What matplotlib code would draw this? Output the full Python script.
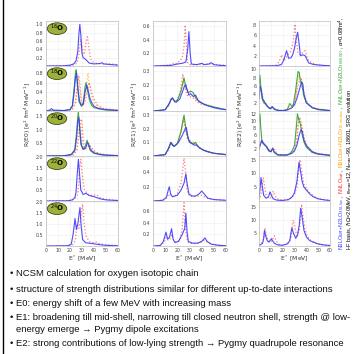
import matplotlib.pyplot as plt
from matplotlib.patches import Ellipse
from matplotlib.lines import Line2D

# ---- data: (E* [MeV], strength) ----
isotopes = ["16", "18", "20", "22", "24"]

# E0 column
e0_16_blue = [(0, 0), (15, 0.005), (20, 0.02), (23, 0.05), (25, 0.12), (26.5, 0.35), (27.5, 0.8), (28.2, 1.0), (29, 0.75),
              (30, 0.3), (31, 0.2), (32.5, 0.17), (34, 0.13), (36, 0.07), (40, 0.05), (45, 0.06), (46.5, 0.08), (48, 0.05),
              (52, 0.04), (56, 0.03), (60, 0.02)]
e0_16_red = [(0, 0), (20, 0.01), (24, 0.03), (26, 0.08), (27.5, 0.3), (29, 0.65), (30, 0.5), (31, 0.28), (32, 0.3),
             (33.5, 0.6), (34.5, 0.7), (35.5, 0.5), (37, 0.18), (39, 0.1), (42, 0.06), (48, 0.05), (54, 0.05), (60, 0.03)]
e0_18_blue = [(0, 0), (3, 0.02), (4.7, 0.05), (6, 0.02), (15, 0.01), (20, 0.03), (22, 0.1), (23.5, 0.4), (24.5, 0.7), (25.5, 0.8),
              (26.5, 0.5), (28, 0.2), (29.5, 0.12), (31, 0.15), (32.5, 0.4), (34, 0.55), (35, 0.45), (36.5, 0.28), (38, 0.18),
              (40, 0.1), (44, 0.05), (50, 0.03), (60, 0.01)]
e0_18_green = [(0, 0), (15, 0.01), (20, 0.03), (22, 0.12), (23.5, 0.5), (24.5, 0.8), (25.2, 0.87), (26, 0.6), (27.5, 0.2),
               (29.5, 0.1), (31, 0.15), (32.5, 0.5), (33.3, 0.6), (34.5, 0.45), (36, 0.25), (38, 0.12), (40, 0.07),
               (45, 0.04), (50, 0.02), (60, 0.01)]
e0_18_red = [(0, 0), (18, 0.01), (22, 0.04), (24.5, 0.15), (26, 0.45), (27.2, 0.75), (28.2, 0.6), (29.5, 0.2), (31, 0.12),
             (33, 0.25), (35, 0.5), (36, 0.6), (37, 0.5), (38.5, 0.35), (40, 0.25), (43, 0.12), (48, 0.05), (60, 0.02)]
e0_18_orange = [(0, 0), (18, 0.01), (22, 0.05), (24.5, 0.2), (26, 0.55), (27, 0.7), (28, 0.5), (29.5, 0.18), (31, 0.12),
                (33, 0.35), (34.3, 0.7), (35, 0.8), (36, 0.6), (37.5, 0.35), (40, 0.18), (44, 0.08), (50, 0.04), (60, 0.02)]
e0_20_blue = [(0, 0), (15, 0.01), (21, 0.05), (24, 0.2), (25.5, 0.7), (26.5, 1.3), (27.4, 1.45), (28.2, 1.0), (29.5, 0.4),
              (31, 0.25), (33, 0.3), (34.5, 0.5), (35.5, 0.45), (37, 0.25), (40, 0.12), (45, 0.06), (50, 0.03), (60, 0.01)]
e0_20_green = [(0, 0), (15, 0.01), (21, 0.06), (24, 0.25), (25.5, 0.9), (26.5, 1.5), (27, 1.65), (27.8, 1.2), (29, 0.45),
               (31, 0.25), (33, 0.4), (34.2, 0.6), (35.5, 0.4), (37, 0.2), (40, 0.1), (45, 0.05), (50, 0.03), (60, 0.01)]
e0_20_red = [(0, 0), (18, 0.01), (23, 0.05), (26, 0.25), (27.5, 0.8), (28.5, 1.3), (29.6, 1.4), (30.5, 0.9), (31.8, 0.35),
             (33, 0.25), (35, 0.35), (36, 0.42), (37.5, 0.35), (40, 0.2), (44, 0.1), (50, 0.05), (60, 0.02)]
e0_20_orange = [(0, 0), (18, 0.01), (23, 0.05), (25.5, 0.3), (27, 1.0), (28, 1.35), (29, 1.1), (30.5, 0.45), (32, 0.25),
                (34, 0.4), (35, 0.55), (36.5, 0.4), (38, 0.25), (41, 0.12), (46, 0.06), (60, 0.02)]
e0_22_blue = [(0, 0), (18, 0.01), (22, 0.05), (24, 0.15), (25, 0.4), (26, 1.2), (27, 1.9), (28, 1.2), (29, 0.5), (31, 0.3),
              (33.3, 0.35), (36, 0.25), (40, 0.2), (45, 0.1), (50, 0.05), (60, 0.02)]
e0_22_red = [(0, 0), (20, 0.01), (24, 0.1), (26, 0.25), (27, 0.6), (28, 1.5), (29, 1.9), (30, 1.3), (32, 0.5), (35, 0.3),
             (38, 0.25), (42, 0.3), (45, 0.15), (50, 0.08), (60, 0.03)]
e0_24_blue = [(0, 0), (18, 0.01), (21, 0.08), (22.5, 0.5), (24.2, 1.25), (25.3, 0.75), (26.5, 1.0), (28.3, 1.75), (29.3, 0.9),
              (30.5, 0.3), (33, 0.15), (37, 0.12), (40, 0.1), (45, 0.06), (50, 0.03), (60, 0.01)]
e0_24_red = [(0, 0), (20, 0.01), (23, 0.08), (24.5, 0.3), (26, 1.0), (27.3, 0.8), (28.5, 1.1), (30.5, 1.9), (31.5, 1.2),
             (33, 0.5), (36, 0.2), (40, 0.15), (42, 0.18), (45, 0.1), (50, 0.05), (60, 0.02)]

# E1 column
e1_16_blue = [(0, 0), (15, 0.01), (20, 0.03), (24, 0.04), (27, 0.06), (28.5, 0.25), (29.5, 0.52), (30.5, 0.2), (31.5, 0.03),
              (36, 0.02), (40, 0.04), (42, 0.02), (46, 0.03), (48, 0.05), (50, 0.02), (55, 0.01), (60, 0.005)]
e1_16_red = [(0, 0), (10, 0.01), (15, 0.02), (17, 0.04), (18, 0.03), (20, 0.04), (22, 0.08), (24, 0.12), (25.5, 0.3),
             (26.5, 0.62), (27.5, 0.3), (28.5, 0.05), (30, 0.02), (35, 0.02), (40, 0.03), (48, 0.03), (60, 0.01)]
e1_18_blue = [(0, 0), (5, 0.002), (10, 0.01), (13, 0.05), (15, 0.09), (16, 0.1), (18, 0.07), (19, 0.065), (22, 0.09),
              (24, 0.14), (25.5, 0.18), (27, 0.2), (28, 0.16), (29.5, 0.12), (31, 0.13), (33, 0.11), (35, 0.12), (37, 0.08),
              (40, 0.06), (45, 0.04), (50, 0.025), (55, 0.015), (60, 0.01)]
e1_18_green = [(0, 0), (10, 0.01), (13, 0.05), (15, 0.09), (16, 0.095), (18, 0.07), (20, 0.08), (23, 0.15), (25.5, 0.25),
               (27, 0.18), (29, 0.14), (31, 0.15), (33, 0.14), (35, 0.1), (38, 0.07), (42, 0.05), (50, 0.03), (60, 0.01)]
e1_18_red = [(0, 0), (10, 0.01), (13, 0.04), (15, 0.1), (17, 0.08), (19, 0.07), (22, 0.12), (24.5, 0.28), (26, 0.18),
             (28, 0.12), (30, 0.11), (33, 0.1), (36, 0.07), (40, 0.05), (50, 0.03), (60, 0.01)]
e1_18_orange = [(0, 0), (10, 0.01), (13, 0.05), (15, 0.09), (17, 0.08), (20, 0.08), (23, 0.16), (25, 0.22), (27, 0.17),
                (30, 0.14), (33, 0.13), (36, 0.09), (40, 0.06), (50, 0.03), (60, 0.01)]
e1_20_blue = [(0, 0), (10, 0.01), (12.5, 0.05), (14.5, 0.1), (16, 0.08), (17.5, 0.07), (21, 0.1), (24, 0.15), (26, 0.19),
              (27.4, 0.21), (28.5, 0.15), (30, 0.1), (32, 0.09), (34, 0.08), (36, 0.08), (38, 0.06), (42, 0.04), (50, 0.02),
              (60, 0.01)]
e1_20_green = [(0, 0), (10, 0.01), (13, 0.06), (15, 0.1), (17, 0.07), (20, 0.09), (23, 0.18), (25.5, 0.3), (27, 0.2),
               (29, 0.12), (31, 0.1), (33, 0.09), (35, 0.1), (37, 0.07), (40, 0.05), (45, 0.03), (50, 0.02), (60, 0.01)]
e1_20_red = [(0, 0), (10, 0.01), (13, 0.05), (15, 0.09), (17, 0.07), (20, 0.09), (23, 0.18), (25, 0.28), (26.5, 0.2),
             (28.5, 0.12), (31, 0.1), (34, 0.09), (37, 0.07), (40, 0.05), (50, 0.02), (60, 0.01)]
e1_20_orange = [(0, 0), (10, 0.01), (13, 0.05), (15, 0.09), (17, 0.08), (20, 0.09), (23, 0.17), (25.3, 0.26), (27, 0.2),
                (29, 0.13), (31, 0.11), (34, 0.1), (37, 0.07), (40, 0.05), (50, 0.02), (60, 0.01)]
e1_22_blue = [(0, 0), (8, 0.01), (11, 0.05), (12.5, 0.15), (13.4, 0.2), (14.5, 0.1), (16, 0.06), (20, 0.08), (23, 0.15),
              (25.5, 0.25), (27, 0.38), (28, 0.25), (29.5, 0.1), (32, 0.07), (35, 0.07), (38, 0.1), (40, 0.14), (42, 0.1),
              (45, 0.04), (50, 0.02), (60, 0.01)]
e1_22_red = [(0, 0), (8, 0.01), (11, 0.04), (13, 0.1), (14.5, 0.07), (17, 0.06), (20, 0.1), (23, 0.25), (24.5, 0.45),
             (25.5, 0.6), (26.5, 0.45), (28, 0.15), (30, 0.07), (35, 0.06), (38, 0.07), (40, 0.08), (43, 0.05), (50, 0.02),
             (60, 0.01)]
e1_24_blue = [(0, 0), (6, 0.01), (8.5, 0.08), (10.7, 0.24), (12, 0.12), (13.5, 0.15), (15.3, 0.3), (16.5, 0.12), (18, 0.06),
              (21, 0.08), (24, 0.2), (26, 0.3), (27, 0.57), (28, 0.25), (29, 0.08), (32, 0.05), (37, 0.05), (40, 0.08),
              (42.7, 0.14), (44.5, 0.08), (48, 0.03), (55, 0.01), (60, 0.005)]
e1_24_red = [(0, 0), (6, 0.01), (9, 0.06), (11, 0.15), (12.5, 0.1), (14, 0.12), (15.5, 0.2), (17, 0.1), (19, 0.06),
             (22, 0.1), (24, 0.3), (25.5, 0.75), (26.5, 0.4), (27.5, 0.15), (29, 0.06), (33, 0.04), (38, 0.05), (42, 0.1),
             (45, 0.06), (50, 0.02), (60, 0.005)]

# E2 column
e2_16_blue = [(0, 0), (15, 0.05), (19, 0.3), (21, 1.2), (23.3, 3.0), (25, 1.5), (27, 1.6), (28.5, 2.2), (30, 3.5),
              (31.5, 5.5), (32.7, 6.6), (33.8, 4.5), (35, 2.0), (37, 2.2), (39, 2.0), (42, 0.6), (46, 0.3), (50, 0.2),
              (55, 0.1), (60, 0.05)]
e2_16_red = [(0, 0), (14, 0.1), (17, 0.8), (19.2, 2.2), (21, 1.0), (24, 2.0), (27, 3.0), (29, 5.0), (30.4, 8.2),
             (31.5, 5.0), (33, 2.5), (35, 2.2), (37, 2.6), (38.9, 3.0), (40.5, 1.8), (42, 1.0), (48, 0.3), (55, 0.1),
             (60, 0.05)]
e2_18_blue = [(0, 3), (1, 6), (2, 5), (3, 3), (5, 2), (7, 1.2), (9, 0.6), (11, 1.0), (13, 0.4), (16, 0.1), (22, 0.1),
              (26, 0.5), (28, 0.8), (30, 1.5), (32, 3), (34, 5), (36, 7), (37, 6.5), (38, 4), (40, 2), (45, 0.8),
              (50, 0.4), (60, 0.1)]
e2_18_green = [(0, 6), (0.8, 8.6), (1.5, 6), (2.5, 3), (4, 2), (6, 1.5), (8, 0.8), (10, 0.5), (11.5, 1.0), (13, 0.5),
               (16, 0.2), (20, 0.1), (24, 0.4), (26, 1.8), (27.5, 1.2), (29, 1.5), (31, 5), (33, 9.5), (34, 9.2), (35, 7),
               (36, 6.5), (38, 3.5), (40, 2), (45, 0.8), (50, 0.3), (60, 0.1)]
e2_18_red = [(0, 3), (1, 5.5), (2, 5), (3, 3), (5, 2), (7, 1.2), (9, 0.6), (11, 1.0), (13, 0.4), (16, 0.1), (22, 0.1),
             (26, 0.4), (27, 1.2), (28, 1.0), (30, 2), (32, 5), (34, 7), (35, 8), (36, 7.5), (37, 6), (39, 3), (42, 1.5),
             (48, 0.5), (60, 0.1)]
e2_18_orange = [(0, 3), (1, 6), (2, 5), (4, 2.5), (7, 1.3), (9, 0.6), (11, 1.0), (14, 0.4), (20, 0.1), (26, 0.5), (28, 1.0),
                (31, 3), (33, 8), (34, 8.8), (35, 8), (36, 7.8), (38, 4), (40, 2), (45, 0.8), (60, 0.1)]
e2_20_blue = [(0, 2), (1.5, 3.5), (2.5, 4.5), (3.5, 3.8), (5, 3.2), (6.5, 2.7), (8, 1.8), (10, 1.2), (11.5, 2.2), (13, 1),
              (16, 0.3), (24, 0.3), (28, 0.8), (30, 1.5), (32, 3), (34, 6), (35.5, 7.5), (36.5, 7), (38, 4.5), (40, 3),
              (45, 1.2), (50, 0.6), (60, 0.2)]
e2_20_green = [(0, 10), (0.8, 12), (1.5, 8), (2.5, 4), (3.5, 3.5), (5, 3), (6.5, 2.5), (8, 1.5), (10, 1.2), (11.5, 2),
               (13, 1), (16, 0.3), (22, 0.2), (26, 0.6), (28, 1.5), (30, 3), (31.5, 8), (32.5, 12), (33.5, 10.5), (35, 9),
               (36.5, 6), (38, 4), (40, 2.5), (45, 1), (50, 0.5), (60, 0.2)]
e2_20_red = [(0, 2), (1.5, 4), (2.5, 4.2), (4, 3.5), (6, 2.8), (8, 1.5), (10, 1.2), (12, 2.5), (13.5, 1.5), (16, 0.4),
             (24, 0.3), (27, 0.8), (30, 1.5), (32, 4), (33.5, 10), (34.5, 11), (35.5, 9.5), (37, 7), (39, 4), (42, 2),
             (48, 0.8), (60, 0.2)]
e2_20_orange = [(0, 2.5), (1.5, 4), (3, 3.8), (5, 3), (7, 2.2), (9, 1.4), (11.5, 2.2), (13.5, 1.2), (16, 0.3), (24, 0.3),
                (28, 1), (31, 2.5), (33, 9), (34, 11), (35, 10), (36.5, 8), (38, 5), (40, 3), (45, 1), (60, 0.2)]
e2_22_blue = [(0, 1), (1, 5), (1.7, 8.5), (2.5, 6), (4, 2), (6, 1), (8, 1.5), (9.3, 3.3), (10.5, 2), (12, 0.8), (15, 0.3),
              (20, 0.2), (25, 0.5), (28, 1.5), (30, 3), (32, 7), (33.8, 14), (35, 11), (36.5, 7), (38, 5), (40, 4),
              (43, 2.5), (46, 1.5), (50, 0.8), (55, 0.4), (60, 0.2)]
e2_22_red = [(0, 0.3), (2, 3), (3.6, 8.5), (4.5, 6), (6, 2), (8, 1), (10, 1.2), (12, 3.5), (13, 2.5), (15, 0.8), (20, 0.3),
             (25, 0.5), (28, 1.3), (30, 2.5), (32, 5), (34.6, 15), (36, 11), (38, 6), (40, 4.5), (43, 3), (46, 1.8),
             (50, 0.8), (60, 0.2)]
e2_24_blue = [(0, 0.2), (3, 1), (4, 3), (4.6, 6), (5.5, 4), (7, 2), (8.5, 1.5), (10.5, 2.8), (11.5, 2), (13, 1), (16, 0.4),
              (20, 0.3), (24, 0.8), (26, 2), (27, 5), (27.8, 7), (29, 5), (31, 3), (32.5, 4), (34, 8), (35.2, 14.5),
              (36.5, 11), (38, 6), (40, 3.5), (43, 2), (46, 1.5), (50, 0.8), (55, 0.4), (60, 0.2)]
e2_24_red = [(0, 0.2), (3, 1.5), (4.2, 4), (5.1, 7), (6.2, 4.5), (7.5, 2), (10, 1.5), (12, 3), (13, 4), (14, 2.5), (16, 0.8),
             (20, 0.3), (24, 0.8), (27, 3), (28.2, 8), (29, 10), (30.3, 7), (32, 4), (34, 6), (35.3, 12), (36, 16),
             (37.3, 11), (39, 6), (41, 3.5), (44, 2), (48, 1), (55, 0.4), (60, 0.2)]

# axis limits / ticks per panel
ylims = [[1.08, 0.95, 1.7, 2.05, 2.05],
         [0.68, 0.34, 0.33, 0.63, 0.78],
         [8.8, 10.8, 12.8, 16.3, 17.3]]
yticks = [[[0.2, 0.4, 0.6, 0.8, 1.0], [0.2, 0.4, 0.6, 0.8], [0.5, 1.0, 1.5], [0.5, 1.0, 1.5, 2.0], [0.5, 1.0, 1.5, 2.0]],
          [[0.2, 0.4, 0.6], [0.1, 0.2, 0.3], [0.1, 0.2, 0.3], [0.2, 0.4, 0.6], [0.2, 0.4, 0.6]],
          [[2, 4, 6, 8], [2, 4, 6, 8, 10], [2, 4, 6, 8, 10, 12], [5, 10, 15], [5, 10, 15]]]
ylabels = [r"R(E0) [e$^2$ fm$^4$ MeV$^{-1}$]", r"R(E1) [e$^2$ fm$^2$ MeV$^{-1}$]", r"R(E2) [e$^2$ fm$^4$ MeV$^{-1}$]"]

bullets = ["NCSM calculation for oxygen isotopic chain",
           "structure of strength distributions similar for different up-to-date interactions",
           "E0: energy shift of a few MeV with increasing mass",
           "E1: broadening till mid-shell, narrowing till closed neutron shell, strength @ low-\nenergy emerge \u2192 Pygmy dipole excitations",
           "E2: strong contributions of low-lying strength \u2192 Pygmy quadrupole resonance"]

BLUE, RED, GREEN, ORANGE = "#3a3aff", "#ff6a6a", "#2ca02c", "#ffb040"
styles = {"blue": (BLUE, "-", 0.8), "red": (RED, ":", 0.9), "green": (GREEN, "-", 0.8), "orange": (ORANGE, ":", 0.9)}

panels = [
    [{"red": e0_16_red, "blue": e0_16_blue},
     {"orange": e0_18_orange, "red": e0_18_red, "green": e0_18_green, "blue": e0_18_blue},
     {"orange": e0_20_orange, "red": e0_20_red, "green": e0_20_green, "blue": e0_20_blue},
     {"red": e0_22_red, "blue": e0_22_blue},
     {"red": e0_24_red, "blue": e0_24_blue}],
    [{"red": e1_16_red, "blue": e1_16_blue},
     {"orange": e1_18_orange, "red": e1_18_red, "green": e1_18_green, "blue": e1_18_blue},
     {"orange": e1_20_orange, "red": e1_20_red, "green": e1_20_green, "blue": e1_20_blue},
     {"red": e1_22_red, "blue": e1_22_blue},
     {"red": e1_24_red, "blue": e1_24_blue}],
    [{"red": e2_16_red, "blue": e2_16_blue},
     {"orange": e2_18_orange, "red": e2_18_red, "green": e2_18_green, "blue": e2_18_blue},
     {"orange": e2_20_orange, "red": e2_20_red, "green": e2_20_green, "blue": e2_20_blue},
     {"red": e2_22_red, "blue": e2_22_blue},
     {"red": e2_24_red, "blue": e2_24_blue}],
]

W, H = 355, 354
fig = plt.figure(figsize=(W / 100, H / 100), dpi=100)
fig.patch.set_facecolor("white")

col_x = [46, 153, 259]
col_w = [72, 73, 71]
row_top = [21, 66, 111, 156, 201]
row_h = 45

for c in range(3):
    for r in range(5):
        ax = fig.add_axes([col_x[c] / W, 1 - (row_top[r] + row_h) / H, col_w[c] / W, row_h / H])
        for name, pts in panels[c][r].items():
            col, ls, lw = styles[name]
            ax.plot([p[0] for p in pts], [p[1] for p in pts], color=col, ls=ls, lw=lw, alpha=0.9)
        ax.set_xlim(0, 60)
        ax.set_ylim(0, ylims[c][r])
        ax.set_yticks(yticks[c][r])
        ax.set_xticks(range(0, 61, 10))
        if c == 2:
            ax.set_yticklabels([str(t) for t in yticks[c][r]])
        else:
            ax.set_yticklabels(["%.1f" % t for t in yticks[c][r]])
        ax.tick_params(labelsize=3.4, length=0, pad=2, colors="#444444")
        ax.tick_params(axis="x", pad=1.5)
        if r < 4:
            ax.set_xticklabels([])
        for s in ax.spines.values():
            s.set_color("#bbbbbb")
            s.set_linewidth(0.5)
        ax.grid(color="#eeeeee", lw=0.4)
        ax.set_axisbelow(True)
        if c == 0:
            ax.add_patch(Ellipse((0.153, 0.83), 0.27, 0.26, transform=ax.transAxes,
                                 facecolor="#9cb13b", edgecolor="#3c4a14", lw=0.6, zorder=5))
            ax.text(0.153, 0.83, r"$^{%s}$O" % isotopes[r], transform=ax.transAxes, ha="center", va="center",
                    fontsize=5, color="black", zorder=6, fontweight="bold")
    fig.text((col_x[c] + col_w[c] / 2) / W, 1 - 258 / H, r"E$^*$ [MeV]", ha="center", va="center",
             fontsize=4.3, color="#333333")
    fig.text((col_x[c] - 18) / W, 1 - 114 / H, ylabels[c], rotation=90, ha="center", va="center",
             fontsize=4.3, color="#333333")

# slide frame line on the left
fig.add_artist(Line2D([3 / W, 3 / W], [0, 1], color="black", lw=1.0))

# bullet text
bullet_y = [274, 289, 303, 318, 343]
for y, t in zip(bullet_y, bullets):
    lines = t.split("\n")
    fig.text(10 / W, 1 - y / H, "\u2022 " + lines[0], ha="left", va="center", fontsize=6.8,
             family=["Liberation Sans", "DejaVu Sans"], color="#111111")
    if len(lines) > 1:
        fig.text(16 / W, 1 - (y + 11) / H, lines[1], ha="left", va="center", fontsize=6.8,
                 family=["Liberation Sans", "DejaVu Sans"], color="#111111")

# rotated legend on the right, pieces chained bottom -> top
fig.canvas.draw()
renderer = fig.canvas.get_renderer()
legend1 = [(r"N3LO$_{EM}$+N2LO$_{3N,loc}$", BLUE), (", ", "black"), (r"NNLO$_{sat}$", "#ff2020"),
           (", ", "black"), (r"N3LO$_{EM}$+N2LO$_{3N,nonloc}$", "#ff9900"), (", ", "black"),
           (r"NNLO$_{EM}$+N2LO$_{3N(500)}$", GREEN), (r", $\alpha$=0.08fm$^4$,", "black")]
legend2 = [(r"HF basis, $\hbar\Omega$=20MeV, e$_{max}$=12, N$_{max}$~99, 18601, SRG evolution", "black")]
for xpix, pieces in [(343, legend1), (351, legend2)]:
    ypix = 250
    for txt, col in pieces:
        t = fig.text(xpix / W, 1 - ypix / H, txt, rotation=90, rotation_mode="anchor", ha="left", va="baseline",
                     fontsize=4.0, color=col, family=["Liberation Sans", "DejaVu Sans"])
        bb = t.get_window_extent(renderer)
        ypix -= bb.height

fig.savefig("out.png", dpi=100)
